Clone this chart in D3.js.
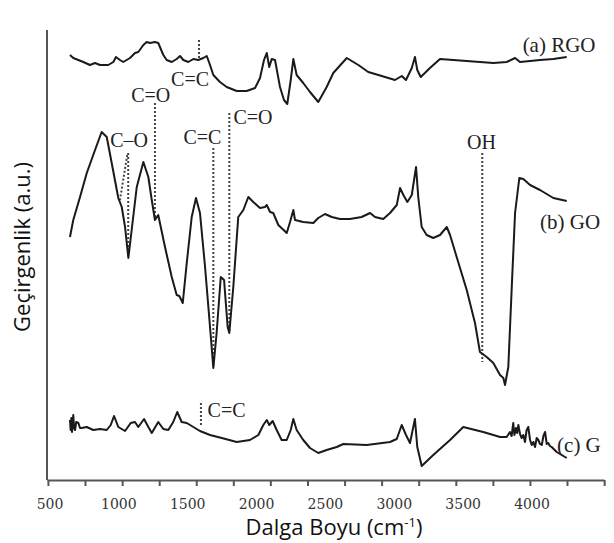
<!DOCTYPE html>
<html>
<head>
<meta charset="utf-8">
<script src="https://cdn.jsdelivr.net/npm/d3@7"></script>
<style>
  body { margin: 0; background: #fff; }
  svg { display: block; }
</style>
</head>
<body>
<div id="chart"></div>
<script>
// wavenumber (cm-1) vs transmittance (a.u.)
let rgo = [
  [645, 425], [669, 422], [742, 418], [790, 415], [827, 417], [863, 415], [923, 415], [960, 418],
  [979, 423], [1008, 420], [1032, 418], [1081, 422], [1117, 427], [1141, 428], [1178, 435], [1202, 438],
  [1226, 437], [1262, 438], [1286, 437], [1323, 425], [1347, 420], [1384, 418], [1420, 421], [1444, 424],
  [1468, 420], [1504, 418], [1541, 421], [1577, 420], [1613, 422], [1638, 424], [1657, 417], [1686, 405],
  [1734, 398], [1783, 393], [1856, 389], [1928, 389], [1989, 392], [2025, 402], [2054, 420], [2074, 427],
  [2092, 413], [2110, 421], [2134, 420], [2170, 393], [2199, 380], [2223, 376], [2248, 400], [2267, 421],
  [2291, 405], [2339, 397], [2388, 388], [2448, 378], [2509, 393], [2557, 407], [2655, 422], [2739, 415],
  [2811, 408], [2909, 404], [3005, 400], [3054, 404], [3085, 400], [3127, 412], [3150, 423], [3167, 410],
  [3192, 403], [3259, 412], [3332, 421], [3526, 419], [3719, 417], [3816, 418], [3877, 422], [3913, 418],
  [3986, 419], [4058, 420], [4155, 421], [4252, 423]
];

let go = [
  [645, 243], [669, 260], [718, 283], [767, 307], [827, 330], [875, 348], [912, 343], [948, 317],
  [996, 282], [1021, 273], [1045, 253], [1069, 222], [1093, 250], [1130, 293], [1178, 318], [1214, 303],
  [1239, 280], [1262, 260], [1286, 265], [1335, 233], [1384, 203], [1420, 185], [1439, 184], [1464, 177],
  [1493, 217], [1529, 263], [1560, 282], [1589, 267], [1626, 213], [1662, 153], [1686, 112], [1710, 147],
  [1740, 203], [1764, 200], [1790, 153], [1802, 147], [1831, 193], [1867, 263], [1904, 270], [1940, 283],
  [1976, 278], [2025, 272], [2061, 273], [2074, 275], [2098, 268], [2121, 267], [2158, 255], [2219, 247],
  [2243, 258], [2267, 270], [2279, 260], [2339, 258], [2412, 257], [2448, 262], [2497, 266], [2546, 263],
  [2606, 261], [2678, 261], [2763, 263], [2824, 267], [2860, 263], [2920, 261], [2969, 267], [3018, 275],
  [3042, 292], [3066, 285], [3095, 278], [3127, 285], [3158, 313], [3174, 283], [3199, 253], [3235, 245],
  [3283, 242], [3332, 245], [3381, 253], [3405, 245], [3453, 223], [3526, 190], [3586, 157], [3622, 128],
  [3671, 123], [3719, 117], [3768, 105], [3792, 102], [3804, 95], [3828, 113], [3853, 193], [3877, 267],
  [3908, 302], [3937, 301], [3986, 295], [4058, 290], [4155, 282], [4252, 279]
];

let g = [
  [645, 60], [650, 50], [655, 62], [660, 48], [665, 58], [669, 65], [675, 52], [682, 50], [690, 58],
  [706, 57], [718, 52], [730, 52], [767, 53], [814, 50], [863, 51], [912, 50], [941, 55], [965, 64],
  [996, 53], [1045, 49], [1086, 57], [1117, 58], [1141, 53], [1183, 61], [1214, 53], [1239, 47],
  [1286, 58], [1323, 51], [1359, 50], [1395, 58], [1424, 68], [1456, 58], [1493, 57], [1541, 53],
  [1589, 49], [1662, 45], [1747, 42], [1856, 38], [1952, 40], [2013, 45], [2049, 55], [2074, 60],
  [2092, 55], [2117, 59], [2146, 50], [2182, 40], [2219, 40], [2248, 50], [2267, 61], [2291, 50],
  [2339, 40], [2388, 32], [2448, 27], [2509, 30], [2582, 33], [2630, 36], [2800, 35], [2969, 38],
  [3018, 41], [3054, 55], [3085, 45], [3114, 37], [3150, 61], [3167, 33], [3199, 14], [3283, 25],
  [3405, 40], [3501, 53], [3646, 48], [3768, 43], [3816, 43], [3840, 48], [3852, 44], [3864, 57],
  [3872, 45], [3884, 52], [3892, 47], [3901, 55], [3913, 46], [3925, 42], [3937, 45], [3949, 38],
  [3961, 50], [3973, 53], [3986, 40], [3998, 35], [4010, 38], [4022, 33], [4034, 42], [4046, 40],
  [4058, 36], [4071, 35], [4083, 44], [4095, 48], [4107, 36], [4118, 37], [4130, 34], [4143, 33],
  [4179, 28], [4216, 25], [4252, 22]
];

// dotted marker lines: wavenumber, top, bottom
let markerLines = [
  [1582, 440, 420],
  [1262, 377, 263],
  [1068, 327, 223],
  [1686, 332, 113],
  [1802, 367, 148],
  [3639, 327, 118],
  [1596, 77, 53]
];
// slanted C-O marker
let slantLine = [[1061, 325], [1008, 280]];

// marker labels: text, wavenumber (centre), a.u.
let markerLabels = [
  ["C=O", 1231, 385],
  ["C=C", 1517, 401],
  ["C=O", 1974, 363],
  ["C=C", 1607, 343],
  ["C\u2013O", 1074, 340],
  ["OH", 3633, 338],
  ["C=C", 1782, 70]
];

let seriesNames = ["(a) RGO", "(b) GO", "(c) G"];
let seriesLabelPos = [[3932, 435], [4058, 258], [4182, 35]];

let tickLabels = [500, 1000, 1500, 2000, 2500, 3000, 3500, 4000];
let minorTicks = [485, 754, 1024, 1293, 1562, 1831, 2100, 2370, 2639, 2908, 3177, 3447, 3716, 3985, 4254, 4524];

const width = 614;
const height = 543;

let svg = d3.select("#chart")
  .append("svg")
  .attr("width", width)
  .attr("height", height);

let x = d3.scaleLinear().domain([500, 4000]).range([50, 532]);
let xAxisScale = d3.scaleLinear().domain([x.invert(47), x.invert(604)]).range([47, 604]);
let y = d3.scaleLinear().domain([0, 450]).range([480, 30]);

// axes
svg.append("line")
  .attr("x1", 47).attr("x2", 47)
  .attr("y1", y(450)).attr("y2", y(0))
  .attr("stroke", "#555").attr("stroke-width", 2);

let xAxis = svg.append("g")
  .attr("transform", "translate(0," + y(0) + ")")
  .call(d3.axisBottom(xAxisScale).tickValues(minorTicks).tickFormat("").tickSize(6).tickSizeOuter(0));
xAxis.select(".domain").attr("stroke", "#555").attr("stroke-width", 2);
xAxis.selectAll(".tick line").attr("stroke", "#555").attr("stroke-width", 2);

svg.append("g")
  .selectAll("text")
  .data(tickLabels)
  .enter().append("text")
  .attr("x", d => x(d))
  .attr("y", 509)
  .attr("text-anchor", "middle")
  .attr("font-family", "DejaVu Serif")
  .attr("font-size", 14)
  .attr("fill", "#333")
  .text(d => d);

// axis titles
let xTitle = svg.append("text")
  .attr("x", 334)
  .attr("y", 535)
  .attr("text-anchor", "middle")
  .attr("font-family", "Open Sans")
  .attr("font-size", 22)
  .attr("fill", "#111")
  .text("Dalga Boyu (cm");
xTitle.append("tspan").attr("dy", -8).attr("font-size", 13).text("-1");
xTitle.append("tspan").attr("dy", 8).text(")");

svg.append("text")
  .attr("transform", "translate(30,247) rotate(-90)")
  .attr("text-anchor", "middle")
  .attr("font-family", "Open Sans")
  .attr("font-size", 22)
  .attr("fill", "#111")
  .text("Geçirgenlik (a.u.)");

// dotted markers
let dots = svg.append("g")
  .attr("stroke", "#444")
  .attr("stroke-width", 2)
  .attr("stroke-dasharray", "2,2");

dots.selectAll("line.mark")
  .data(markerLines)
  .enter().append("line")
  .attr("class", "mark")
  .attr("x1", d => x(d[0])).attr("x2", d => x(d[0]))
  .attr("y1", d => y(d[1])).attr("y2", d => y(d[2]));

dots.append("line")
  .attr("x1", x(slantLine[0][0])).attr("y1", y(slantLine[0][1]))
  .attr("x2", x(slantLine[1][0])).attr("y2", y(slantLine[1][1]));

// spectra
let line = d3.line()
  .x(d => x(d[0]))
  .y(d => y(d[1]));

svg.append("g")
  .selectAll("path")
  .data([rgo, go, g])
  .enter().append("path")
  .attr("d", line)
  .attr("fill", "none")
  .attr("stroke", "#1a1a1a")
  .attr("stroke-width", 2)
  .attr("stroke-linejoin", "round");

// labels
svg.append("g")
  .selectAll("text")
  .data(markerLabels)
  .enter().append("text")
  .attr("x", d => x(d[1]))
  .attr("y", d => y(d[2]))
  .attr("dy", "0.35em")
  .attr("text-anchor", "middle")
  .attr("font-family", "Liberation Serif")
  .attr("font-size", 20)
  .attr("fill", "#222")
  .text(d => d[0]);

svg.append("g")
  .selectAll("text")
  .data(seriesNames)
  .enter().append("text")
  .attr("x", (d, i) => x(seriesLabelPos[i][0]))
  .attr("y", (d, i) => y(seriesLabelPos[i][1]))
  .attr("dy", "0.35em")
  .attr("font-family", "Liberation Serif")
  .attr("font-size", 21)
  .attr("fill", "#222")
  .text(d => d);
</script>
</body>
</html>
